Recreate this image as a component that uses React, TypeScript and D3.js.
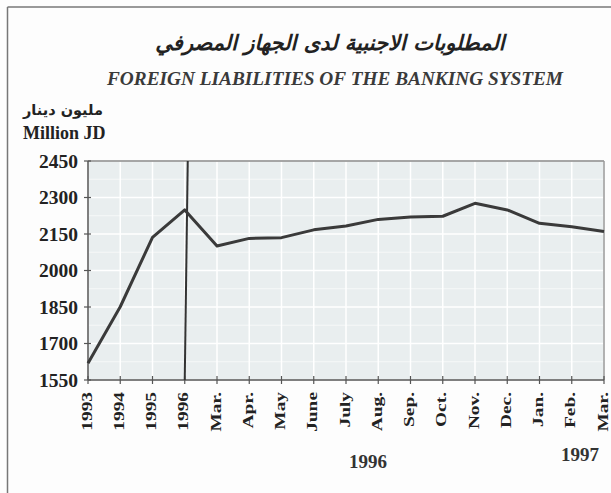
import React from "react";
import * as d3 from "d3";

const categories = ["1993", "1994", "1995", "1996", "Mar.", "Apr.", "May", "June", "July", "Aug.", "Sep.", "Oct.", "Nov.", "Dec.", "Jan.", "Feb.", "Mar."];
const values = [1619, 1851, 2136, 2249, 2101, 2132, 2135, 2167, 2183, 2210, 2220, 2223, 2276, 2249, 2194, 2180, 2160];
const yTicks = [1550, 1700, 1850, 2000, 2150, 2300, 2450];

export default function App() {
  const W = 611, H = 493;
  const x0 = 88, x1 = 604;
  const yTop = 161, yBot = 380;
  const x = d3.scalePoint<number>().domain(d3.range(categories.length)).range([x0, x1]);
  const y = d3.scaleLinear().domain([1550, 2450]).range([yBot, yTop]);
  const line = d3.line<number>().x((_, i) => x(i)!).y((d) => y(d));
  const serif = "'Liberation Serif', 'Times New Roman', serif";
  return (
    <svg width={W} height={H} style={{ position: "absolute", left: 0, top: 0, background: "#fff" }}>
      <rect x={0} y={0} width={W} height={H} fill="#fdfdfd" />
      <line x1={7.5} y1={7} x2={7.5} y2={H} stroke="#777" strokeWidth={1.5} />
      <line x1={7.5} y1={7} x2={W} y2={7} stroke="#777" strokeWidth={1.5} />
      <text x={330} y={50} textAnchor="middle" fontFamily="'DejaVu Sans', 'Noto Sans', sans-serif" fontSize={21} fontWeight="bold" fontStyle="italic" fill="#222" direction="rtl">
        المطلوبات الاجنبية لدى الجهاز المصرفي
      </text>
      <text x={335} y={85} textAnchor="middle" fontFamily={serif} fontSize={19} fontWeight="bold" fontStyle="italic" fill="#3a3a3a" textLength={456} lengthAdjust="spacingAndGlyphs">
        FOREIGN LIABILITIES OF THE  BANKING SYSTEM
      </text>
      <text x={23} y={115} textAnchor="start" fontFamily="'DejaVu Sans', sans-serif" fontSize={14.5} fontWeight="bold" fill="#222">
        مليون دينار
      </text>
      <text x={23} y={139} textAnchor="start" fontFamily={serif} fontSize={18} fontWeight="bold" fill="#222">
        Million JD
      </text>
      <rect x={x0} y={yTop} width={x1 - x0} height={yBot - yTop} fill="#e9eeef" />
      {yTicks.map((t) => (
        <line key={"gh" + t} x1={x0} x2={x1} y1={y(t)} y2={y(t)} stroke="#fff" strokeWidth={1.5} />
      ))}
      {yTicks.slice(0, -1).map((t) => (
        <line key={"gm" + t} x1={x0} x2={x1} y1={y(t + 75)} y2={y(t + 75)} stroke="#f6f8f8" strokeWidth={1} />
      ))}
      {categories.map((c, i) => (
        <line key={"gv" + i} x1={x(i)!} x2={x(i)!} y1={yTop} y2={yBot} stroke="#fff" strokeWidth={1.5} />
      ))}
      <line x1={x0} x2={x1} y1={yTop} y2={yTop} stroke="#888" strokeWidth={1.5} />
      <line x1={x1} x2={x1} y1={yTop} y2={yBot} stroke="#999" strokeWidth={1.5} />
      <line x1={x0} x2={x0} y1={yTop} y2={yBot} stroke="#555" strokeWidth={1.5} />
      <line x1={x0} x2={x1} y1={yBot} y2={yBot} stroke="#555" strokeWidth={1.5} />
      {yTicks.map((t) => (
        <g key={"yt" + t}>
          <line x1={x0 - 4} x2={x0 + 3} y1={y(t)} y2={y(t)} stroke="#555" strokeWidth={1.2} />
          <text x={78} y={y(t) + 6.5} textAnchor="end" fontFamily={serif} fontSize={19.5} fontWeight="bold" fill="#222">{t}</text>
        </g>
      ))}
      {categories.map((c, i) => (
        <g key={"xt" + i}>
          <line x1={x(i)!} x2={x(i)!} y1={yBot - 4} y2={yBot + 4} stroke="#555" strokeWidth={1.2} />
          <text transform={`translate(${x(i)! + 3.5},${yBot + 12}) rotate(-90) scale(1.25,1)`} textAnchor="end" fontFamily={serif} fontSize={15.5} fontWeight="bold" fill="#222">{c}</text>
        </g>
      ))}
      <line x1={x(3)! + 3} x2={x(3)!} y1={yTop} y2={yBot} stroke="#333" strokeWidth={2} />
      <path d={line(values)!} fill="none" stroke="#3a3a3a" strokeWidth={3} strokeLinejoin="round" />
      <text x={368} y={468} textAnchor="middle" fontFamily={serif} fontSize={19} fontWeight="bold" fill="#333">1996</text>
      <text x={580} y={461} textAnchor="middle" fontFamily={serif} fontSize={19} fontWeight="bold" fill="#333">1997</text>
    </svg>
  );
}
